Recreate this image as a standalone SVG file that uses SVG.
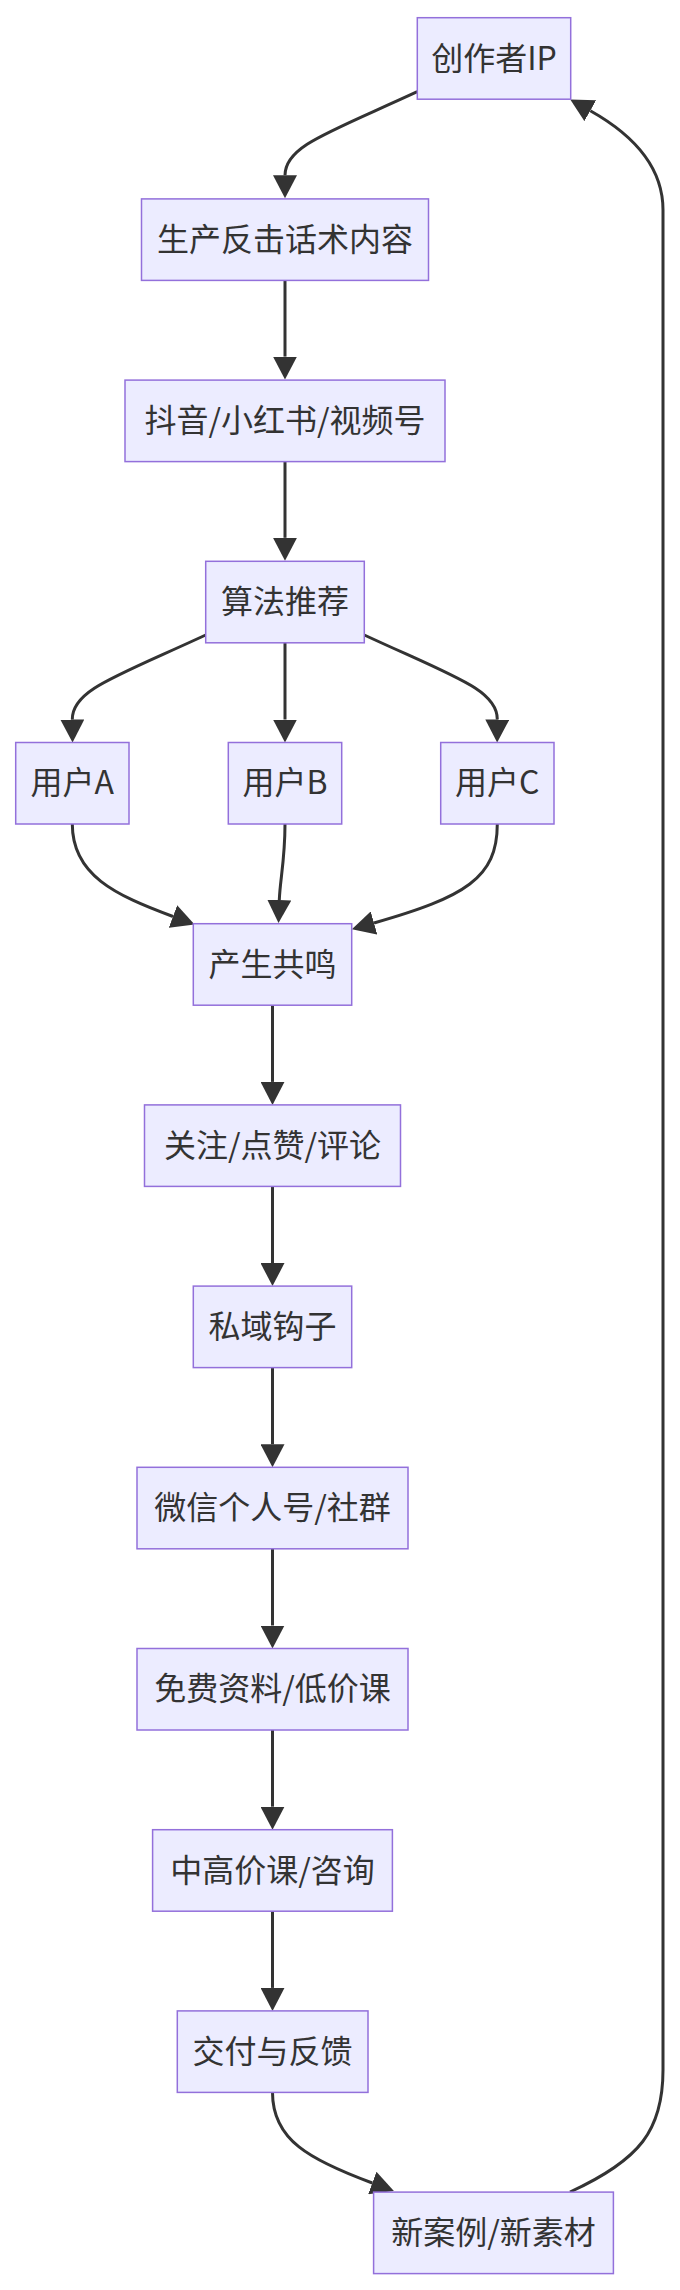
<svg xmlns="http://www.w3.org/2000/svg" width="680" height="2290" viewBox="0 0 680 2290">
<style>
.node rect{fill:#ECECFF;stroke:#9370DB;stroke-width:1.5}
.node text{font-family:"Noto Sans CJK SC","Noto Sans",sans-serif;font-size:32px;fill:#333333;text-anchor:middle}
.edge{fill:none;stroke:#333333;stroke-width:3}
</style>
<defs>
<marker id="arrow" markerUnits="userSpaceOnUse" markerWidth="24" markerHeight="24" refX="0" refY="12" orient="auto" viewBox="0 0 24 24">
<path d="M0,0 L23,12 L0,24 z" fill="#333333"/>
</marker>
</defs>
<rect width="680" height="2290" fill="#ffffff"/>
<g id="connectors">
<path class="edge" marker-end="url(#arrow)" d="M417.3,91.7 C328,133 285,146 285,175.3"/>
<path class="edge" marker-end="url(#arrow)" d="M285,280.4 L285,356.6"/>
<path class="edge" marker-end="url(#arrow)" d="M285,461.6 L285,537.8"/>
<path class="edge" marker-end="url(#arrow)" d="M205.7,635 C115,677 72,690 72.3,719.5"/>
<path class="edge" marker-end="url(#arrow)" d="M285,642.8 L285,719.5"/>
<path class="edge" marker-end="url(#arrow)" d="M364.3,635 C455,677 497.5,690 497.3,719.5"/>
<path class="edge" marker-end="url(#arrow)" d="M72.3,824 C72.3,875 115,895 173,916.5"/>
<path class="edge" marker-end="url(#arrow)" d="M285,824 C285,860 280,880 279.3,900"/>
<path class="edge" marker-end="url(#arrow)" d="M497.3,824 C497.3,878 465,897 374,923"/>
<path class="edge" marker-end="url(#arrow)" d="M272.5,1005.2 L272.5,1081.9"/>
<path class="edge" marker-end="url(#arrow)" d="M272.5,1186.4 L272.5,1263.1"/>
<path class="edge" marker-end="url(#arrow)" d="M272.5,1367.6 L272.5,1444.3"/>
<path class="edge" marker-end="url(#arrow)" d="M272.5,1548.8 L272.5,1625.5"/>
<path class="edge" marker-end="url(#arrow)" d="M272.5,1730 L272.5,1806.7"/>
<path class="edge" marker-end="url(#arrow)" d="M272.5,1911.2 L272.5,1987.9"/>
<path class="edge" marker-end="url(#arrow)" d="M272.5,2092.4 C272.5,2140 310,2160 372.3,2183"/>
<path class="edge" marker-end="url(#arrow)" d="M570,2192 C640,2160 663,2130 663,2070 L663,210 C663,165 630,133 590.3,110.7"/>
</g>
<g id="n-creator" class="node"><rect x="417.3" y="17.7" width="153.4" height="81.5"/><text x="494" y="69.5">创作者IP</text></g>
<g id="n-produce" class="node"><rect x="141.5" y="198.9" width="287" height="81.5"/><text x="285" y="250.7">生产反击话术内容</text></g>
<g id="n-platform" class="node"><rect x="125" y="380.1" width="320" height="81.5"/><text x="285" y="431.9">抖音/小红书/视频号</text></g>
<g id="n-algo" class="node"><rect x="205.7" y="561.3" width="158.6" height="81.5"/><text x="285" y="613.1">算法推荐</text></g>
<g id="n-userA" class="node"><rect x="15.7" y="742.5" width="113.3" height="81.5"/><text x="72.3" y="794.3">用户A</text></g>
<g id="n-userB" class="node"><rect x="228.3" y="742.5" width="113.4" height="81.5"/><text x="285" y="794.3">用户B</text></g>
<g id="n-userC" class="node"><rect x="440.7" y="742.5" width="113.3" height="81.5"/><text x="497.3" y="794.3">用户C</text></g>
<g id="n-resonance" class="node"><rect x="193.3" y="923.7" width="158.4" height="81.5"/><text x="272.5" y="975.5">产生共鸣</text></g>
<g id="n-engage" class="node"><rect x="144.5" y="1104.9" width="256" height="81.5"/><text x="272.5" y="1156.7">关注/点赞/评论</text></g>
<g id="n-hook" class="node"><rect x="193.3" y="1286.1" width="158.4" height="81.5"/><text x="272.5" y="1337.9">私域钩子</text></g>
<g id="n-wechat" class="node"><rect x="137" y="1467.3" width="271" height="81.5"/><text x="272.5" y="1519.1">微信个人号/社群</text></g>
<g id="n-free" class="node"><rect x="137" y="1648.5" width="271" height="81.5"/><text x="272.5" y="1700.3">免费资料/低价课</text></g>
<g id="n-premium" class="node"><rect x="152.6" y="1829.7" width="239.8" height="81.5"/><text x="272.5" y="1881.5">中高价课/咨询</text></g>
<g id="n-deliver" class="node"><rect x="177.3" y="2010.9" width="190.7" height="81.5"/><text x="272.5" y="2062.7">交付与反馈</text></g>
<g id="n-newcase" class="node"><rect x="373.6" y="2192.1" width="239.8" height="81.5"/><text x="493.5" y="2243.9">新案例/新素材</text></g>
</svg>
